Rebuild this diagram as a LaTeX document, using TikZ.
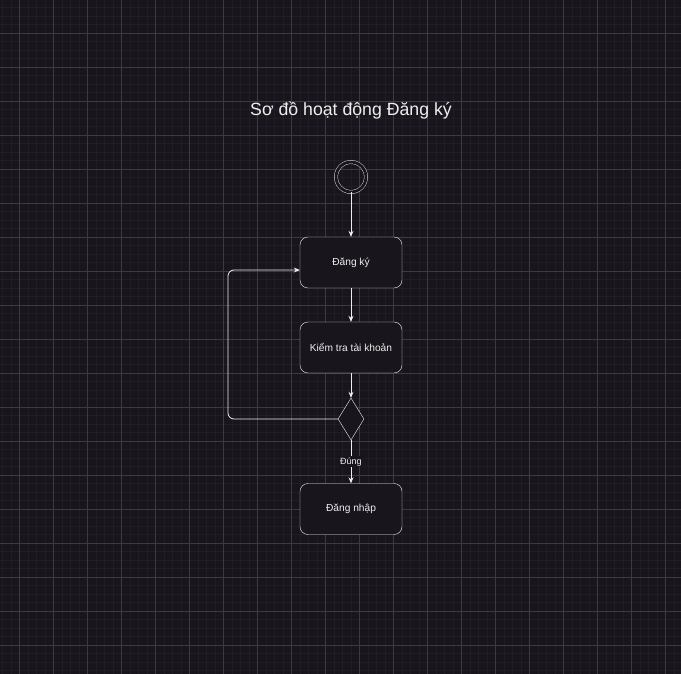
\documentclass[tikz,border=0pt]{standalone}
\usepackage{fontspec}
\setmainfont{Liberation Sans}
\usepackage{xcolor}
\usepackage{tikz}
\definecolor{bgdark}{RGB}{25,21,28}
\definecolor{gridmajor}{RGB}{62,58,68}
\definecolor{gridminor}{RGB}{33,29,38}
\definecolor{linewhite}{RGB}{238,238,238}
\usetikzlibrary{shapes.geometric,arrows.meta,positioning,calc}

\begin{document}
\begin{tikzpicture}[x=1pt, y=-1pt,
    activity/.style={draw=linewhite, fill=bgdark, rounded corners=8pt, minimum width=102pt, minimum height=51pt, text=linewhite, font=\fontsize{10.2}{12}\selectfont},
    decision/.style={draw=linewhite, fill=bgdark, diamond, inner sep=0pt, minimum width=26pt, minimum height=42pt},
    initial/.style={circle, draw=linewhite, double=bgdark, double distance=3pt, minimum size=30pt, inner sep=0pt},
    flow/.style={draw=linewhite, line width=0.8pt, -{Stealth[length=6pt,width=5pt]}}]
    % Background and grid
    \fill[bgdark] (0,0) rectangle (681,674);
    \useasboundingbox (0,0) rectangle (681,674);
    \foreach \gx in {2.5,11,...,681} \draw[gridminor, line width=0.5pt] (\gx,0) -- (\gx,674);
    \foreach \gy in {7.5,16,...,674} \draw[gridminor, line width=0.5pt] (0,\gy) -- (681,\gy);
    \foreach \gx in {19.5,53.5,...,681} \draw[gridmajor, line width=0.6pt] (\gx,0) -- (\gx,674);
    \foreach \gy in {33,67,...,674} \draw[gridmajor, line width=0.6pt] (0,\gy) -- (681,\gy);

    % Title
    \node[text=linewhite, font=\fontsize{17.7}{21}\selectfont] (title) at (351,111) {Sơ đồ hoạt động Đăng ký};

    % Start state
    \node[initial] (start) at (351,177) {};

    % Activities
    \node[activity] (reg) at (351,262.5) {Đăng ký};
    \node[activity] (check) at (351,347.5) {Kiểm tra tài khoản};
    \node[decision] (dec) at (351,419) {};
    \node[activity] (login) at (351,509) {Đăng nhập};

    % Flows
    \draw[flow] (start) -- (reg);
    \draw[flow] (reg) -- (check);
    \draw[flow] (check) -- (dec);
    \draw[flow] (dec) -- node[fill=bgdark, text=linewhite, inner sep=1.5pt, font=\fontsize{9}{10}\selectfont] {Đúng} (login);

    % Loop back
    \coordinate (back) at (228,419);
    \draw[flow, rounded corners=6pt] (dec.west) -- (back) |- ([yshift=-7.5pt]reg.west);
\end{tikzpicture}
\end{document}
